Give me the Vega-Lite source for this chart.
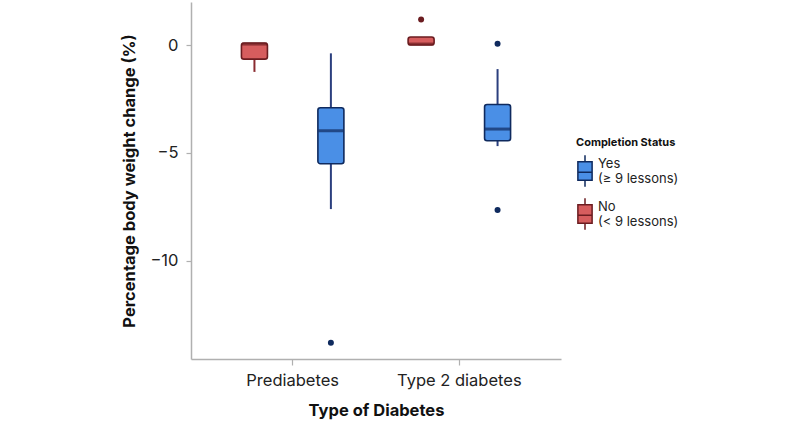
{
  "$schema": "https://vega.github.io/schema/vega-lite/v6.json",
  "autosize": {"type": "none"},
  "padding": {"left": 191, "top": 2, "right": 239, "bottom": 68},
  "width": 370,
  "height": 357,
  "background": "white",
  "config": {
    "font": "Inter",
    "view": {"stroke": null},
    "axis": {"grid": false, "domainColor": "#b0b0b0", "tickColor": "#b0b0b0", "labelColor": "#222222", "titleColor": "#111111", "labelFontSize": 16.5, "titleFontSize": 16.5, "titleFontWeight": "bold", "labelFont": "Inter", "titleFont": "Inter", "domainWidth": 1.5, "tickWidth": 1.2}
  },
  "datasets": {
    "boxes": [
      {"type": "Prediabetes", "status": "No", "lower": -1.24, "q1": -0.65, "median": 0.05, "q3": 0.1, "upper": 0.1},
      {"type": "Prediabetes", "status": "Yes", "lower": -7.6, "q1": -5.5, "median": -3.97, "q3": -2.9, "upper": -0.38},
      {"type": "Type 2 diabetes", "status": "No", "lower": 0.01, "q1": 0.01, "median": 0.05, "q3": 0.38, "upper": 0.38},
      {"type": "Type 2 diabetes", "status": "Yes", "lower": -4.68, "q1": -4.43, "median": -3.89, "q3": -2.75, "upper": -1.11}
    ],
    "outliers": [
      {"type": "Prediabetes", "status": "Yes", "value": -13.8},
      {"type": "Type 2 diabetes", "status": "No", "value": 1.19},
      {"type": "Type 2 diabetes", "status": "Yes", "value": 0.06},
      {"type": "Type 2 diabetes", "status": "Yes", "value": -7.64}
    ]
  },
  "encoding": {
    "x": {"field": "type", "type": "nominal", "scale": {"paddingInner": 0, "paddingOuter": 0.11},
      "axis": {"title": "Type of Diabetes", "labelAngle": 0, "labelPadding": 7, "tickSize": 6, "titlePadding": 14}},
    "xOffset": {"field": "status", "type": "nominal", "scale": {"domain": ["No", "Yes"], "paddingInner": 0, "paddingOuter": 0.09}}
  },
  "layer": [
    {
      "data": {"name": "boxes"},
      "mark": {"type": "rule", "strokeWidth": 2},
      "encoding": {
        "y": {"field": "lower", "type": "quantitative", "scale": {"domain": [-14.55, 2], "nice": false, "zero": false},
          "axis": {"title": "Percentage body weight change (%)", "values": [0, -5, -10], "tickSize": 5, "labelPadding": 8, "titlePadding": 12}},
        "y2": {"field": "upper"},
        "color": {"field": "status", "type": "nominal", "scale": {"domain": ["Yes", "No"], "range": ["#2b3f7e", "#8a2b30"]}, "legend": null}
      }
    },
    {
      "data": {"name": "boxes"},
      "mark": {"type": "bar", "size": 26, "cornerRadius": 2.5, "strokeWidth": 1.6},
      "encoding": {
        "y": {"field": "q1", "type": "quantitative"},
        "y2": {"field": "q3"},
        "fill": {"field": "status", "type": "nominal", "title": "Completion Status",
          "scale": {"domain": ["Yes", "No"], "range": ["#4a8fe6", "#d65d5e"]},
          "legend": {"orient": "none", "legendX": 385, "legendY": 135, "titleFontSize": 11, "titleFontWeight": "bold", "titleColor": "#111", "titlePadding": 6,
            "labelFontSize": 13, "labelColor": "#222", "labelFont": "Inter", "labelLineHeight": 17,
            "labelExpr": "datum.label == 'Yes' ? ['Yes', '(≥ 9 lessons)'] : ['No', '(< 9 lessons)']",
            "symbolType": "M-0.45,-0.58H0.45V0.58H-0.45Z M0,-0.58V-1 M0,0.58V1 M-0.45,0.08H0.45",
            "symbolSize": 1000, "symbolStrokeWidth": 1.5, "symbolOffset": -8, "rowPadding": 5, "labelOffset": -4, "labelBaseline": "bottom"}},
        "stroke": {"field": "status", "type": "nominal", "title": "Completion Status",
          "scale": {"domain": ["Yes", "No"], "range": ["#0f2a5e", "#6b1c20"]}}
      }
    },
    {
      "data": {"name": "boxes"},
      "mark": {"type": "tick", "size": 25, "thickness": 3},
      "encoding": {
        "y": {"field": "median", "type": "quantitative"},
        "color": {"field": "status", "type": "nominal", "scale": {"domain": ["Yes", "No"], "range": ["#0f2a5e", "#6b1c20"]}, "legend": null}
      }
    },
    {
      "data": {"name": "outliers"},
      "mark": {"type": "circle", "size": 36, "opacity": 1},
      "encoding": {
        "y": {"field": "value", "type": "quantitative"},
        "color": {"field": "status", "type": "nominal", "scale": {"domain": ["Yes", "No"], "range": ["#0f2a5e", "#6b1c20"]}, "legend": null}
      }
    }
  ],
  "resolve": {"scale": {"color": "independent"}}
}
